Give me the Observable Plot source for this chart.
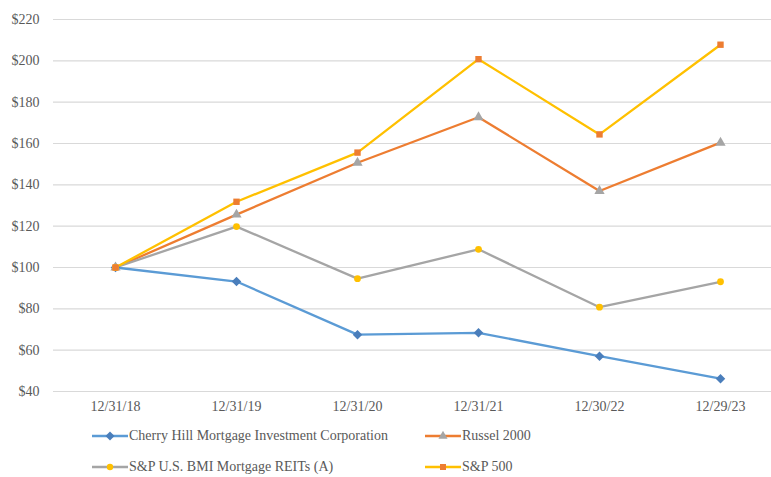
<!DOCTYPE html>
<html><head><meta charset="utf-8">
<script src="https://cdn.jsdelivr.net/npm/d3@7"></script>
<script src="https://cdn.jsdelivr.net/npm/@observablehq/plot@0.6"></script>
<style>
body{margin:0;background:#fff;font-family:"Liberation Serif","DejaVu Serif",serif;}
#legend{position:relative;height:57px;width:771px;font-size:14px;color:#595959;}
.item{position:absolute;display:flex;align-items:center;white-space:nowrap;}
svg text{font-family:"Liberation Serif","DejaVu Serif",serif !important;}
</style></head><body>
<div id="chart"></div>
<div id="legend"></div>
<script>
const dates = ["12/31/18","12/31/19","12/31/20","12/31/21","12/30/22","12/29/23"];
const seriesNames = ["Cherry Hill Mortgage Investment Corporation","Russel 2000","S&P U.S. BMI Mortgage REITs (A)","S&P 500"];
const cherryHill = [100, 93.2, 67.5, 68.4, 57.1, 46.2];
const russell2000 = [100, 125.6, 150.7, 172.7, 137.0, 160.4];
const bmiReits = [100, 119.8, 94.6, 108.8, 80.8, 93.1];
const sp500 = [100, 131.8, 155.6, 200.8, 164.4, 207.8];
const yTicks = [40,60,80,100,120,140,160,180,200,220];
const lineColors = ["#5B9BD5","#ED7D31","#A5A5A5","#FFC000"];
const markerColors = ["#4A7EBB","#A5A5A5","#FFC000","#ED7D31"];
const markerSizes = [3.8,3.8,3.4,3.6];

// rotated-square diamond symbol (Excel style)
const squareDiamond = {
  draw(context, size) {
    const r = Math.sqrt(size / 2);
    context.moveTo(0, -r); context.lineTo(r, 0); context.lineTo(0, r); context.lineTo(-r, 0); context.closePath();
  }
};
const markerSymbols = [squareDiamond, d3.symbolTriangle, d3.symbolCircle, d3.symbolSquare];

const allValues = [cherryHill, russell2000, bmiReits, sp500];
const rows = [];
allValues.forEach((vals, s) => vals.forEach((v, i) => rows.push({series: seriesNames[s], si: s, date: dates[i], value: v})));

const marks = [
  Plot.ruleY(yTicks, {stroke:"#D9D9D9", strokeWidth:1.2}),
  Plot.axisY({ticks: yTicks, tickSize:0, tickPadding:14, tickFormat: d => "$" + d, fontSize:14, fill:"#595959"}),
  Plot.axisX({tickSize:0, tickPadding:10, fontSize:14, fill:"#595959"})
];
seriesNames.forEach((name, s) => {
  marks.push(Plot.line(rows.filter(r => r.si === s), {x:"date", y:"value", stroke: lineColors[s], strokeWidth:2.3}));
});
seriesNames.forEach((name, s) => {
  marks.push(Plot.dot(rows.filter(r => r.si === s), {x:"date", y:"value", fill: markerColors[s], symbol: markerSymbols[s], r: markerSizes[s], stroke:"none"}));
});

const chart = Plot.plot({
  width: 771, height: 420,
  marginLeft: 53, marginRight: 0, marginTop: 19, marginBottom: 29,
  style: {fontFamily: '"Liberation Serif","DejaVu Serif",serif', fontSize:"14px", color:"#595959", background:"#fff"},
  x: {type:"point", domain: dates, range:[114, 721], padding: 0, label: null},
  y: {domain:[40,220], label: null},
  marks
});
document.getElementById("chart").appendChild(chart);

// legend
const legend = document.getElementById("legend");
const positions = [[92, 16],[425, 16],[92, 47],[425, 47]];
const symPaths = [
  d3.symbol(squareDiamond, 40)(),
  d3.symbol(d3.symbolTriangle, 36)(),
  d3.symbol(d3.symbolCircle, 32)(),
  d3.symbol(d3.symbolSquare, 36)()
];
seriesNames.forEach((name, s) => {
  const div = document.createElement("div");
  div.className = "item";
  div.style.left = positions[s][0] + "px";
  div.style.top = (positions[s][1] - 9) + "px";
  div.innerHTML = `<svg width="36" height="18" style="margin-right:1px"><line x1="0" x2="36" y1="9" y2="9" stroke="${lineColors[s]}" stroke-width="2.3"/><path transform="translate(18,9)" d="${symPaths[s]}" fill="${markerColors[s]}"/></svg><span></span>`;
  div.querySelector("span").textContent = name;
  legend.appendChild(div);
});
</script>
</body></html>
